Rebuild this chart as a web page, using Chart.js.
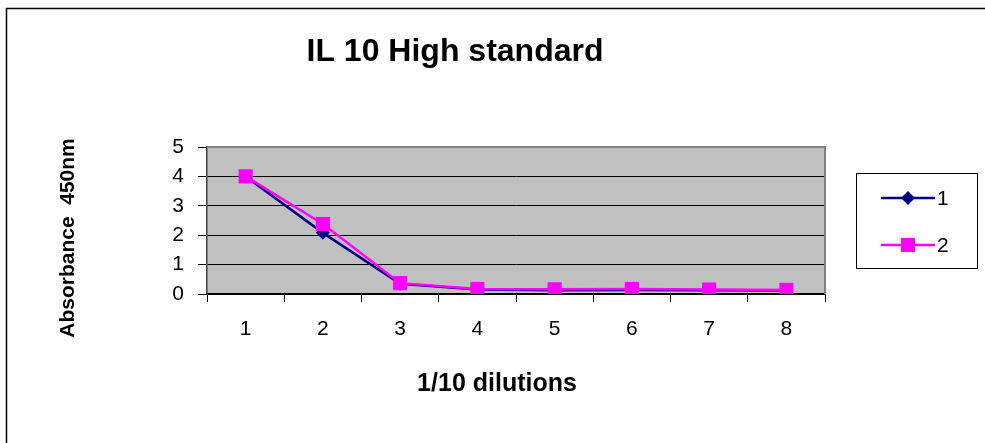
<!DOCTYPE html>
<html>
<head>
<meta charset="utf-8">
<script src="https://cdn.jsdelivr.net/npm/chart.js@4"></script>
<style>
  html, body { margin: 0; padding: 0; background: #fff; }
  #wrap { width: 985px; height: 443px; }
</style>
</head>
<body>
<div id="wrap"><canvas id="chart" width="985" height="443"></canvas></div>
<script>
// Data
const dilutions = ['1', '2', '3', '4', '5', '6', '7', '8'];
const series1 = [4.0, 2.08, 0.35, 0.15, 0.13, 0.14, 0.13, 0.12];
const series2 = [4.0, 2.38, 0.37, 0.17, 0.16, 0.17, 0.15, 0.14];
const yTicks = [0, 1, 2, 3, 4, 5];
const chartTitle = 'IL 10 High standard';
const xTitle = '1/10 dilutions';
const yTitle = 'Absorbance  450nm';

const FONT = 'Arial, "Liberation Sans", sans-serif';

// grey plot background + frame, title and custom legend
const excelLook = {
  id: 'excelLook',
  beforeDraw(chart) {
    const { ctx, chartArea: a } = chart;
    ctx.save();
    ctx.fillStyle = '#c0c0c0';
    ctx.fillRect(a.left, a.top, a.right - a.left, a.bottom - a.top);
    // outer chart frame (left/top only visible)
    ctx.strokeStyle = '#000';
    ctx.lineWidth = 1.5;
    ctx.beginPath();
    ctx.moveTo(6.5, 443);
    ctx.lineTo(6.5, 8.5);
    ctx.lineTo(985, 8.5);
    ctx.stroke();
    ctx.restore();
  },
  afterDatasetsDraw(chart) {
    const { ctx, chartArea: a } = chart;
    ctx.save();
    ctx.strokeStyle = '#808080';
    ctx.lineWidth = 2;
    ctx.beginPath();
    ctx.moveTo(a.left, a.top);
    ctx.lineTo(a.right, a.top);
    ctx.lineTo(a.right, a.bottom);
    ctx.stroke();
    ctx.restore();
  },
  afterDraw(chart) {
    const { ctx } = chart;
    ctx.save();
    ctx.fillStyle = '#000';
    ctx.textAlign = 'center';
    ctx.textBaseline = 'middle';
    ctx.font = 'bold 32px ' + FONT;
    ctx.fillText(chartTitle, 455, 52);
    ctx.font = 'bold 25px ' + FONT;
    ctx.fillText(xTitle, 497, 384);
    ctx.translate(68, 238);
    ctx.rotate(-Math.PI / 2);
    ctx.font = 'bold 21px ' + FONT;
    ctx.fillText(yTitle, 0, 0);
    ctx.restore();

    // legend
    ctx.save();
    ctx.strokeStyle = '#000';
    ctx.lineWidth = 1;
    ctx.strokeRect(856.5, 173.5, 121, 95);
    const items = chart.data.datasets.map((d, i) => ({ d, y: i === 0 ? 198 : 245 }));
    items.forEach(({ d, y }) => {
      ctx.strokeStyle = d.borderColor;
      ctx.lineWidth = 2.5;
      ctx.beginPath();
      ctx.moveTo(881, y);
      ctx.lineTo(935, y);
      ctx.stroke();
      ctx.fillStyle = d.backgroundColor;
      ctx.beginPath();
      if (d.pointStyle === 'rectRot') {
        ctx.moveTo(908, y - 7); ctx.lineTo(915, y); ctx.lineTo(908, y + 7); ctx.lineTo(901, y);
        ctx.closePath();
      } else {
        ctx.rect(901, y - 7, 14, 14);
      }
      ctx.fill();
      ctx.fillStyle = '#000';
      ctx.font = '21px ' + FONT;
      ctx.textAlign = 'left';
      ctx.textBaseline = 'middle';
      ctx.fillText(d.label, 937, y + 1);
    });
    ctx.restore();
  }
};

new Chart(document.getElementById('chart'), {
  type: 'line',
  data: {
    labels: dilutions,
    datasets: [
      {
        label: '1', data: series1,
        borderColor: '#000080', backgroundColor: '#000080',
        borderWidth: 2.5, pointStyle: 'rectRot', pointRadius: 7,
        pointBorderWidth: 0, order: 2, tension: 0
      },
      {
        label: '2', data: series2,
        borderColor: '#ff00ff', backgroundColor: '#ff00ff',
        borderWidth: 2.5, pointStyle: 'rect', pointRadius: 10,
        pointBorderWidth: 0, order: 1, tension: 0
      }
    ]
  },
  plugins: [excelLook],
  options: {
    responsive: false,
    animation: false,
    events: [],
    layout: { padding: { left: 0, right: 160, top: 147, bottom: 0 } },
    plugins: { legend: { display: false }, title: { display: false }, tooltip: { enabled: false } },
    scales: {
      x: {
        offset: true,
        grid: { offset: true, drawOnChartArea: false, drawTicks: true, tickLength: 8, color: '#000', lineWidth: 1 },
        border: { color: '#000', width: 1.5 },
        ticks: { color: '#000', font: { family: FONT, size: 21 }, padding: 15, maxRotation: 0 },
        afterFit(s) { s.height = 443 - 294; }
      },
      y: {
        min: 0, max: 5,
        afterBuildTicks(s) { s.ticks = yTicks.map(v => ({ value: v })); },
        grid: {
          color: ctx => (ctx.tick && ctx.tick.value === 5 ? 'rgba(0,0,0,0)' : '#000'),
          tickColor: '#000', tickLength: 9, lineWidth: 1
        },
        border: { color: '#404040', width: 1.5 },
        ticks: { color: '#000', font: { family: FONT, size: 21 }, padding: 14 },
        afterFit(s) { s.width = 207; }
      }
    }
  }
});
</script>
</body>
</html>
